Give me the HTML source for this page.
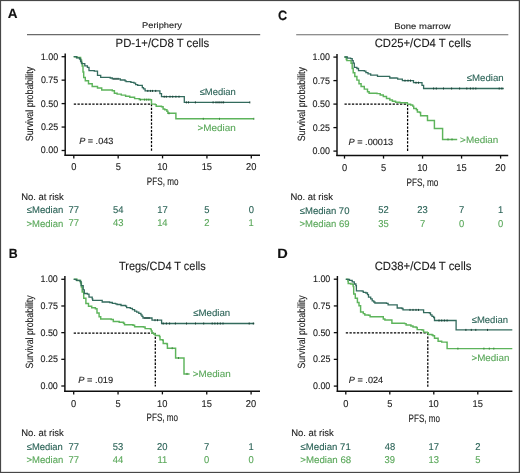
<!DOCTYPE html>
<html><head><meta charset="utf-8"><style>
html,body{margin:0;padding:0;background:#fff;}
svg{display:block;will-change:transform;}
text{font-family:"Liberation Sans",sans-serif;text-rendering:geometricPrecision;}
</style></head><body>
<svg width="520" height="473" viewBox="0 0 520 473">
<rect width="520" height="473" fill="#fff"/>
<line x1="27.00" y1="34.60" x2="260.20" y2="34.60" stroke="#6a6a6a" stroke-width="1.1"/>
<line x1="65.20" y1="53.40" x2="65.20" y2="155.90" stroke="#0e0e0e" stroke-width="1.45"/>
<line x1="64.50" y1="155.20" x2="260.00" y2="155.20" stroke="#0e0e0e" stroke-width="1.45"/>
<line x1="61.60" y1="56.70" x2="65.20" y2="56.70" stroke="#0e0e0e" stroke-width="1.3"/>
<line x1="61.60" y1="80.15" x2="65.20" y2="80.15" stroke="#0e0e0e" stroke-width="1.3"/>
<line x1="61.60" y1="103.60" x2="65.20" y2="103.60" stroke="#0e0e0e" stroke-width="1.3"/>
<line x1="61.60" y1="127.05" x2="65.20" y2="127.05" stroke="#0e0e0e" stroke-width="1.3"/>
<line x1="61.60" y1="150.50" x2="65.20" y2="150.50" stroke="#0e0e0e" stroke-width="1.3"/>
<line x1="73.80" y1="155.20" x2="73.80" y2="158.40" stroke="#0e0e0e" stroke-width="1.3"/>
<line x1="118.17" y1="155.20" x2="118.17" y2="158.40" stroke="#0e0e0e" stroke-width="1.3"/>
<line x1="162.55" y1="155.20" x2="162.55" y2="158.40" stroke="#0e0e0e" stroke-width="1.3"/>
<line x1="206.93" y1="155.20" x2="206.93" y2="158.40" stroke="#0e0e0e" stroke-width="1.3"/>
<line x1="251.30" y1="155.20" x2="251.30" y2="158.40" stroke="#0e0e0e" stroke-width="1.3"/>
<line x1="73.80" y1="104.00" x2="151.50" y2="104.00" stroke="#000" stroke-width="1.25" stroke-dasharray="2.3 1.4"/>
<line x1="151.50" y1="104.00" x2="151.50" y2="151.20" stroke="#000" stroke-width="1.25" stroke-dasharray="2.3 1.4"/>
<path d="M73.70,56.70H77.00V57.50H80.60V60.00H81.50V63.00H82.20V65.90H83.00V72.00H83.70V77.50H85.30V80.70H88.50V83.80H92.20V86.50H97.50V88.00H101.70V90.00H112.30V90.70H114.40V93.30H117.10V94.10H121.30V95.10H125.60V96.20H129.80V97.20H134.60V98.60H139.30V99.40H150.40V99.70H151.50V104.10H155.20V104.60H156.20V106.20H161.50V106.80H163.10V108.90H164.80V109.80H166.90V111.20H167.90V113.30H175.60V113.30H175.90V118.80H253.80V118.80" fill="none" stroke="#5db45b" stroke-width="1.45" stroke-linejoin="miter"/>
<path d="M73.70,56.70H76.50V57.80H79.50V59.00H80.60V61.50H81.60V63.70H84.80V65.90H87.40V67.40H89.00V70.60H94.30V71.10H97.50V75.40H100.70V77.30H110.20V78.00H112.30V78.80H119.50V78.80H120.30V80.00H125.00V80.90H126.10V81.60H129.80V81.70H130.90V82.40H134.00V83.20H135.60V84.60H137.70V85.30H141.90V85.30H142.30V87.70H143.50V88.80H145.10V90.90H159.50V90.90H159.90V93.60H161.50V96.70H184.00V96.70H184.30V102.40H249.80V102.40" fill="none" stroke="#336b5d" stroke-width="1.3" stroke-linejoin="miter"/>
<line x1="164.20" y1="95.70" x2="164.20" y2="97.70" stroke="#1b4036" stroke-width="1.0"/>
<line x1="166.30" y1="95.70" x2="166.30" y2="97.70" stroke="#1b4036" stroke-width="1.0"/>
<line x1="170.00" y1="95.70" x2="170.00" y2="97.70" stroke="#1b4036" stroke-width="1.0"/>
<line x1="172.70" y1="95.70" x2="172.70" y2="97.70" stroke="#1b4036" stroke-width="1.0"/>
<line x1="175.90" y1="95.70" x2="175.90" y2="97.70" stroke="#1b4036" stroke-width="1.0"/>
<line x1="179.00" y1="95.70" x2="179.00" y2="97.70" stroke="#1b4036" stroke-width="1.0"/>
<line x1="186.40" y1="101.40" x2="186.40" y2="103.40" stroke="#1b4036" stroke-width="1.0"/>
<line x1="188.50" y1="101.40" x2="188.50" y2="103.40" stroke="#1b4036" stroke-width="1.0"/>
<line x1="195.40" y1="101.40" x2="195.40" y2="103.40" stroke="#1b4036" stroke-width="1.0"/>
<line x1="213.10" y1="101.40" x2="213.10" y2="103.40" stroke="#1b4036" stroke-width="1.0"/>
<line x1="216.00" y1="101.40" x2="216.00" y2="103.40" stroke="#1b4036" stroke-width="1.0"/>
<line x1="218.00" y1="101.40" x2="218.00" y2="103.40" stroke="#1b4036" stroke-width="1.0"/>
<line x1="219.90" y1="101.40" x2="219.90" y2="103.40" stroke="#1b4036" stroke-width="1.0"/>
<line x1="221.90" y1="101.40" x2="221.90" y2="103.40" stroke="#1b4036" stroke-width="1.0"/>
<line x1="223.60" y1="101.40" x2="223.60" y2="103.40" stroke="#1b4036" stroke-width="1.0"/>
<line x1="249.80" y1="101.40" x2="249.80" y2="103.40" stroke="#1b4036" stroke-width="1.0"/>
<line x1="147.80" y1="89.90" x2="147.80" y2="91.90" stroke="#1b4036" stroke-width="1.0"/>
<line x1="150.40" y1="89.90" x2="150.40" y2="91.90" stroke="#1b4036" stroke-width="1.0"/>
<line x1="152.50" y1="89.90" x2="152.50" y2="91.90" stroke="#1b4036" stroke-width="1.0"/>
<line x1="155.70" y1="89.90" x2="155.70" y2="91.90" stroke="#1b4036" stroke-width="1.0"/>
<line x1="114.00" y1="77.80" x2="114.00" y2="79.80" stroke="#1b4036" stroke-width="1.0"/>
<line x1="116.00" y1="77.80" x2="116.00" y2="79.80" stroke="#1b4036" stroke-width="1.0"/>
<line x1="118.00" y1="77.80" x2="118.00" y2="79.80" stroke="#1b4036" stroke-width="1.0"/>
<line x1="169.00" y1="112.30" x2="169.00" y2="114.30" stroke="#3f8a40" stroke-width="1.0"/>
<line x1="203.30" y1="117.80" x2="203.30" y2="119.80" stroke="#3f8a40" stroke-width="1.0"/>
<line x1="219.50" y1="117.80" x2="219.50" y2="119.80" stroke="#3f8a40" stroke-width="1.0"/>
<line x1="253.80" y1="117.80" x2="253.80" y2="119.80" stroke="#3f8a40" stroke-width="1.0"/>
<line x1="140.40" y1="98.70" x2="140.40" y2="100.70" stroke="#3f8a40" stroke-width="1.0"/>
<line x1="144.60" y1="98.70" x2="144.60" y2="100.70" stroke="#3f8a40" stroke-width="1.0"/>
<line x1="146.70" y1="98.70" x2="146.70" y2="100.70" stroke="#3f8a40" stroke-width="1.0"/>
<line x1="148.80" y1="98.70" x2="148.80" y2="100.70" stroke="#3f8a40" stroke-width="1.0"/>
<line x1="64.90" y1="276.00" x2="64.90" y2="391.90" stroke="#0e0e0e" stroke-width="1.45"/>
<line x1="64.20" y1="391.20" x2="260.00" y2="391.20" stroke="#0e0e0e" stroke-width="1.45"/>
<line x1="61.30" y1="279.30" x2="64.90" y2="279.30" stroke="#0e0e0e" stroke-width="1.3"/>
<line x1="61.30" y1="305.98" x2="64.90" y2="305.98" stroke="#0e0e0e" stroke-width="1.3"/>
<line x1="61.30" y1="332.65" x2="64.90" y2="332.65" stroke="#0e0e0e" stroke-width="1.3"/>
<line x1="61.30" y1="359.32" x2="64.90" y2="359.32" stroke="#0e0e0e" stroke-width="1.3"/>
<line x1="61.30" y1="386.00" x2="64.90" y2="386.00" stroke="#0e0e0e" stroke-width="1.3"/>
<line x1="73.70" y1="391.20" x2="73.70" y2="394.40" stroke="#0e0e0e" stroke-width="1.3"/>
<line x1="118.05" y1="391.20" x2="118.05" y2="394.40" stroke="#0e0e0e" stroke-width="1.3"/>
<line x1="162.40" y1="391.20" x2="162.40" y2="394.40" stroke="#0e0e0e" stroke-width="1.3"/>
<line x1="206.75" y1="391.20" x2="206.75" y2="394.40" stroke="#0e0e0e" stroke-width="1.3"/>
<line x1="251.10" y1="391.20" x2="251.10" y2="394.40" stroke="#0e0e0e" stroke-width="1.3"/>
<line x1="73.70" y1="333.00" x2="155.30" y2="333.00" stroke="#000" stroke-width="1.25" stroke-dasharray="2.3 1.4"/>
<line x1="155.30" y1="333.00" x2="155.30" y2="386.60" stroke="#000" stroke-width="1.25" stroke-dasharray="2.3 1.4"/>
<path d="M73.70,279.30H77.00V280.50H80.60V282.90H81.40V287.00H82.20V291.90H83.70V298.30H85.90V303.50H88.50V306.20H91.70V307.80H95.40V308.80H97.00V313.00H99.10V316.80H100.70V318.90H111.20V319.40H113.30V321.50H119.20V322.30H123.50V323.20H124.50V324.80H133.00V325.30H134.60V326.80H143.50V327.00H145.10V328.60H150.40V329.10H151.30V331.00H152.10V333.30H153.70V334.00H155.30V335.40H159.50V336.60H160.00V339.80H162.70V340.30H163.20V343.50H166.90V344.00H167.40V348.20H175.40V348.20H175.60V358.00H183.80V358.00H184.00V373.90H189.60V373.90" fill="none" stroke="#5db45b" stroke-width="1.45" stroke-linejoin="miter"/>
<path d="M73.70,279.30H76.30V280.30H80.00V281.60H81.10V285.60H83.20V289.80H84.30V293.50H87.40V294.20H89.00V297.20H92.20V298.80H92.70V300.40H101.50V300.40H102.20V302.00H109.60V302.50H112.30V303.30H115.50V303.80H117.00V304.50H121.00V305.50H125.60V306.20H126.60V307.60H130.30V308.40H132.40V309.60H134.60V311.10H136.70V312.20H138.80V313.30H140.90V314.80H142.00V316.40H143.00V318.00H151.50V318.00H152.00V320.20H161.30V320.20H161.60V323.50H254.30V323.50" fill="none" stroke="#336b5d" stroke-width="1.3" stroke-linejoin="miter"/>
<line x1="163.20" y1="322.50" x2="163.20" y2="324.50" stroke="#1b4036" stroke-width="1.0"/>
<line x1="166.40" y1="322.50" x2="166.40" y2="324.50" stroke="#1b4036" stroke-width="1.0"/>
<line x1="169.60" y1="322.50" x2="169.60" y2="324.50" stroke="#1b4036" stroke-width="1.0"/>
<line x1="175.40" y1="322.50" x2="175.40" y2="324.50" stroke="#1b4036" stroke-width="1.0"/>
<line x1="186.50" y1="322.50" x2="186.50" y2="324.50" stroke="#1b4036" stroke-width="1.0"/>
<line x1="195.50" y1="322.50" x2="195.50" y2="324.50" stroke="#1b4036" stroke-width="1.0"/>
<line x1="203.70" y1="322.50" x2="203.70" y2="324.50" stroke="#1b4036" stroke-width="1.0"/>
<line x1="212.20" y1="322.50" x2="212.20" y2="324.50" stroke="#1b4036" stroke-width="1.0"/>
<line x1="214.90" y1="322.50" x2="214.90" y2="324.50" stroke="#1b4036" stroke-width="1.0"/>
<line x1="217.60" y1="322.50" x2="217.60" y2="324.50" stroke="#1b4036" stroke-width="1.0"/>
<line x1="220.30" y1="322.50" x2="220.30" y2="324.50" stroke="#1b4036" stroke-width="1.0"/>
<line x1="223.00" y1="322.50" x2="223.00" y2="324.50" stroke="#1b4036" stroke-width="1.0"/>
<line x1="249.20" y1="322.50" x2="249.20" y2="324.50" stroke="#1b4036" stroke-width="1.0"/>
<line x1="253.30" y1="322.50" x2="253.30" y2="324.50" stroke="#1b4036" stroke-width="1.0"/>
<line x1="145.00" y1="317.00" x2="145.00" y2="319.00" stroke="#1b4036" stroke-width="1.0"/>
<line x1="147.00" y1="317.00" x2="147.00" y2="319.00" stroke="#1b4036" stroke-width="1.0"/>
<line x1="149.00" y1="317.00" x2="149.00" y2="319.00" stroke="#1b4036" stroke-width="1.0"/>
<line x1="155.00" y1="319.20" x2="155.00" y2="321.20" stroke="#1b4036" stroke-width="1.0"/>
<line x1="157.50" y1="319.20" x2="157.50" y2="321.20" stroke="#1b4036" stroke-width="1.0"/>
<line x1="172.20" y1="347.20" x2="172.20" y2="349.20" stroke="#3f8a40" stroke-width="1.0"/>
<line x1="178.50" y1="357.00" x2="178.50" y2="359.00" stroke="#3f8a40" stroke-width="1.0"/>
<line x1="187.00" y1="372.90" x2="187.00" y2="374.90" stroke="#3f8a40" stroke-width="1.0"/>
<line x1="296.20" y1="34.70" x2="508.30" y2="34.70" stroke="#6a6a6a" stroke-width="1.1"/>
<line x1="337.00" y1="54.00" x2="337.00" y2="156.10" stroke="#0e0e0e" stroke-width="1.45"/>
<line x1="336.30" y1="155.40" x2="508.20" y2="155.40" stroke="#0e0e0e" stroke-width="1.45"/>
<line x1="333.40" y1="57.10" x2="337.00" y2="57.10" stroke="#0e0e0e" stroke-width="1.3"/>
<line x1="333.40" y1="80.60" x2="337.00" y2="80.60" stroke="#0e0e0e" stroke-width="1.3"/>
<line x1="333.40" y1="104.10" x2="337.00" y2="104.10" stroke="#0e0e0e" stroke-width="1.3"/>
<line x1="333.40" y1="127.60" x2="337.00" y2="127.60" stroke="#0e0e0e" stroke-width="1.3"/>
<line x1="333.40" y1="151.10" x2="337.00" y2="151.10" stroke="#0e0e0e" stroke-width="1.3"/>
<line x1="344.50" y1="155.40" x2="344.50" y2="158.60" stroke="#0e0e0e" stroke-width="1.3"/>
<line x1="383.52" y1="155.40" x2="383.52" y2="158.60" stroke="#0e0e0e" stroke-width="1.3"/>
<line x1="422.55" y1="155.40" x2="422.55" y2="158.60" stroke="#0e0e0e" stroke-width="1.3"/>
<line x1="461.57" y1="155.40" x2="461.57" y2="158.60" stroke="#0e0e0e" stroke-width="1.3"/>
<line x1="500.60" y1="155.40" x2="500.60" y2="158.60" stroke="#0e0e0e" stroke-width="1.3"/>
<line x1="344.50" y1="104.20" x2="407.60" y2="104.20" stroke="#000" stroke-width="1.25" stroke-dasharray="2.3 1.4"/>
<line x1="407.60" y1="104.20" x2="407.60" y2="151.60" stroke="#000" stroke-width="1.25" stroke-dasharray="2.3 1.4"/>
<path d="M344.40,57.00H346.30V59.50H346.90V60.60H349.50V60.60H351.10V63.20H352.20V68.50H353.20V72.70H354.80V76.40H356.90V80.10H359.00V83.80H361.10V86.50H364.30V89.10H367.50V91.80H369.10V93.30H377.00V93.60H380.20V94.90H383.30V96.50H386.50V98.40H389.80V100.00H392.40V101.20H395.60V102.30H399.80V102.80H406.00V102.80H407.40V104.30H410.60V105.00H412.70V106.10H413.70V108.50H416.40V109.80H417.40V111.90H419.60V112.40H420.60V115.70H427.20V115.90H427.50V120.40H434.00V120.40H434.40V128.40H442.40V128.40H442.60V139.40H457.20V139.40" fill="none" stroke="#5db45b" stroke-width="1.45" stroke-linejoin="miter"/>
<path d="M344.40,57.00H347.40V58.20H350.60V58.70H352.20V60.60H353.20V63.20H354.30V67.40H356.90V68.50H358.50V70.60H364.30V71.10H365.90V72.70H368.00V73.80H370.70V75.20H377.50V76.40H389.50V76.60H389.80V78.00H396.60V78.20H397.70V79.20H400.90V79.20H402.40V80.60H413.20V80.60H413.50V82.70H421.70V82.70H422.00V85.40H423.60V88.50H503.80V88.50" fill="none" stroke="#336b5d" stroke-width="1.3" stroke-linejoin="miter"/>
<line x1="433.60" y1="87.50" x2="433.60" y2="89.50" stroke="#1b4036" stroke-width="1.0"/>
<line x1="436.30" y1="87.50" x2="436.30" y2="89.50" stroke="#1b4036" stroke-width="1.0"/>
<line x1="443.50" y1="87.50" x2="443.50" y2="89.50" stroke="#1b4036" stroke-width="1.0"/>
<line x1="451.60" y1="87.50" x2="451.60" y2="89.50" stroke="#1b4036" stroke-width="1.0"/>
<line x1="459.60" y1="87.50" x2="459.60" y2="89.50" stroke="#1b4036" stroke-width="1.0"/>
<line x1="466.80" y1="87.50" x2="466.80" y2="89.50" stroke="#1b4036" stroke-width="1.0"/>
<line x1="470.40" y1="87.50" x2="470.40" y2="89.50" stroke="#1b4036" stroke-width="1.0"/>
<line x1="473.10" y1="87.50" x2="473.10" y2="89.50" stroke="#1b4036" stroke-width="1.0"/>
<line x1="475.80" y1="87.50" x2="475.80" y2="89.50" stroke="#1b4036" stroke-width="1.0"/>
<line x1="499.20" y1="87.50" x2="499.20" y2="89.50" stroke="#1b4036" stroke-width="1.0"/>
<line x1="501.90" y1="87.50" x2="501.90" y2="89.50" stroke="#1b4036" stroke-width="1.0"/>
<line x1="416.00" y1="81.70" x2="416.00" y2="83.70" stroke="#1b4036" stroke-width="1.0"/>
<line x1="418.50" y1="81.70" x2="418.50" y2="83.70" stroke="#1b4036" stroke-width="1.0"/>
<line x1="405.00" y1="79.60" x2="405.00" y2="81.60" stroke="#1b4036" stroke-width="1.0"/>
<line x1="408.00" y1="79.60" x2="408.00" y2="81.60" stroke="#1b4036" stroke-width="1.0"/>
<line x1="410.50" y1="79.60" x2="410.50" y2="81.60" stroke="#1b4036" stroke-width="1.0"/>
<line x1="448.00" y1="138.40" x2="448.00" y2="140.40" stroke="#3f8a40" stroke-width="1.0"/>
<line x1="452.00" y1="138.40" x2="452.00" y2="140.40" stroke="#3f8a40" stroke-width="1.0"/>
<line x1="337.40" y1="276.00" x2="337.40" y2="392.00" stroke="#0e0e0e" stroke-width="1.45"/>
<line x1="336.70" y1="391.30" x2="512.40" y2="391.30" stroke="#0e0e0e" stroke-width="1.45"/>
<line x1="333.80" y1="279.20" x2="337.40" y2="279.20" stroke="#0e0e0e" stroke-width="1.3"/>
<line x1="333.80" y1="305.93" x2="337.40" y2="305.93" stroke="#0e0e0e" stroke-width="1.3"/>
<line x1="333.80" y1="332.65" x2="337.40" y2="332.65" stroke="#0e0e0e" stroke-width="1.3"/>
<line x1="333.80" y1="359.38" x2="337.40" y2="359.38" stroke="#0e0e0e" stroke-width="1.3"/>
<line x1="333.80" y1="386.10" x2="337.40" y2="386.10" stroke="#0e0e0e" stroke-width="1.3"/>
<line x1="345.80" y1="391.30" x2="345.80" y2="394.50" stroke="#0e0e0e" stroke-width="1.3"/>
<line x1="389.80" y1="391.30" x2="389.80" y2="394.50" stroke="#0e0e0e" stroke-width="1.3"/>
<line x1="433.80" y1="391.30" x2="433.80" y2="394.50" stroke="#0e0e0e" stroke-width="1.3"/>
<line x1="477.80" y1="391.30" x2="477.80" y2="394.50" stroke="#0e0e0e" stroke-width="1.3"/>
<line x1="345.80" y1="332.80" x2="427.80" y2="332.80" stroke="#000" stroke-width="1.25" stroke-dasharray="2.3 1.4"/>
<line x1="427.80" y1="332.80" x2="427.80" y2="386.70" stroke="#000" stroke-width="1.25" stroke-dasharray="2.3 1.4"/>
<path d="M345.80,279.30H347.90V281.00H348.20V283.50H350.60V284.00H352.70V284.50H353.20V286.60H353.70V294.00H355.30V298.30H357.40V302.50H359.00V305.70H360.60V312.00H363.30V313.60H364.80V315.00H368.50V315.20H370.10V316.80H381.80V316.80H383.30V318.90H384.90V320.00H390.50V320.00H391.90V323.30H404.60V323.60H406.10V324.90H410.90V325.90H413.00V327.00H416.20V327.50H417.20V329.60H422.00V330.00H423.60V332.10H427.30V332.80H428.30V334.40H432.00V334.90H433.00V335.80H434.50V338.20H438.10V341.20H441.70V342.10H446.60V342.30H447.10V348.60H512.30V348.60" fill="none" stroke="#5db45b" stroke-width="1.45" stroke-linejoin="miter"/>
<path d="M345.80,279.30H349.50V280.30H352.20V281.90H354.30V284.00H355.90V285.60H356.40V290.90H362.20V291.10H363.30V292.40H365.90V293.00H367.50V294.60H368.50V297.20H370.70V298.80H372.20V300.90H373.80V302.00H374.90V303.00H386.50V303.30H388.10V304.80H396.60V304.80H397.20V308.00H401.90V308.50H403.00V309.90H422.80V309.90H423.60V312.70H429.40V313.00H430.50V314.80H432.00V316.40H433.60V317.50H434.50V320.50H455.60V320.50H456.10V329.90H512.30V329.90" fill="none" stroke="#336b5d" stroke-width="1.3" stroke-linejoin="miter"/>
<line x1="439.00" y1="319.50" x2="439.00" y2="321.50" stroke="#1b4036" stroke-width="1.0"/>
<line x1="441.70" y1="319.50" x2="441.70" y2="321.50" stroke="#1b4036" stroke-width="1.0"/>
<line x1="444.40" y1="319.50" x2="444.40" y2="321.50" stroke="#1b4036" stroke-width="1.0"/>
<line x1="447.10" y1="319.50" x2="447.10" y2="321.50" stroke="#1b4036" stroke-width="1.0"/>
<line x1="465.90" y1="328.90" x2="465.90" y2="330.90" stroke="#1b4036" stroke-width="1.0"/>
<line x1="471.30" y1="328.90" x2="471.30" y2="330.90" stroke="#1b4036" stroke-width="1.0"/>
<line x1="475.80" y1="328.90" x2="475.80" y2="330.90" stroke="#1b4036" stroke-width="1.0"/>
<line x1="487.50" y1="328.90" x2="487.50" y2="330.90" stroke="#1b4036" stroke-width="1.0"/>
<line x1="410.00" y1="308.90" x2="410.00" y2="310.90" stroke="#1b4036" stroke-width="1.0"/>
<line x1="413.00" y1="308.90" x2="413.00" y2="310.90" stroke="#1b4036" stroke-width="1.0"/>
<line x1="416.00" y1="308.90" x2="416.00" y2="310.90" stroke="#1b4036" stroke-width="1.0"/>
<line x1="418.50" y1="308.90" x2="418.50" y2="310.90" stroke="#1b4036" stroke-width="1.0"/>
<line x1="457.90" y1="347.60" x2="457.90" y2="349.60" stroke="#3f8a40" stroke-width="1.0"/>
<line x1="483.90" y1="347.60" x2="483.90" y2="349.60" stroke="#3f8a40" stroke-width="1.0"/>
<line x1="489.30" y1="347.60" x2="489.30" y2="349.60" stroke="#3f8a40" stroke-width="1.0"/>
<line x1="493.80" y1="347.60" x2="493.80" y2="349.60" stroke="#3f8a40" stroke-width="1.0"/>
<text x="7.79" y="18.20" textLength="9.77" lengthAdjust="spacingAndGlyphs" font-size="13.5" fill="#111" stroke="#111" stroke-width="0.12" font-weight="bold">A</text>
<text x="142.07" y="28.10" textLength="39.93" lengthAdjust="spacingAndGlyphs" font-size="8.3" fill="#1c1c1c" stroke="#1c1c1c" stroke-width="0.12">Periphery</text>
<text x="115.62" y="47.10" textLength="93.53" lengthAdjust="spacingAndGlyphs" font-size="12" fill="#1c1c1c" stroke="#1c1c1c" stroke-width="0.12">PD-1+/CD8 T cells</text>
<text x="40.74" y="59.60" textLength="17.38" lengthAdjust="spacingAndGlyphs" font-size="9.5" fill="#1c1c1c" stroke="#1c1c1c" stroke-width="0.12">1.00</text>
<text x="40.88" y="83.05" textLength="17.38" lengthAdjust="spacingAndGlyphs" font-size="9.5" fill="#1c1c1c" stroke="#1c1c1c" stroke-width="0.12">0.75</text>
<text x="40.74" y="106.50" textLength="17.38" lengthAdjust="spacingAndGlyphs" font-size="9.5" fill="#1c1c1c" stroke="#1c1c1c" stroke-width="0.12">0.50</text>
<text x="40.88" y="129.95" textLength="17.38" lengthAdjust="spacingAndGlyphs" font-size="9.5" fill="#1c1c1c" stroke="#1c1c1c" stroke-width="0.12">0.25</text>
<text x="40.74" y="153.40" textLength="17.38" lengthAdjust="spacingAndGlyphs" font-size="9.5" fill="#1c1c1c" stroke="#1c1c1c" stroke-width="0.12">0.00</text>
<text x="71.18" y="170.40" textLength="5.18" lengthAdjust="spacingAndGlyphs" font-size="9.9" fill="#1c1c1c" stroke="#1c1c1c" stroke-width="0.12">0</text>
<text x="115.63" y="170.40" textLength="5.18" lengthAdjust="spacingAndGlyphs" font-size="9.9" fill="#1c1c1c" stroke="#1c1c1c" stroke-width="0.12">5</text>
<text x="157.20" y="170.40" textLength="10.35" lengthAdjust="spacingAndGlyphs" font-size="9.9" fill="#1c1c1c" stroke="#1c1c1c" stroke-width="0.12">10</text>
<text x="201.65" y="170.40" textLength="10.35" lengthAdjust="spacingAndGlyphs" font-size="9.9" fill="#1c1c1c" stroke="#1c1c1c" stroke-width="0.12">15</text>
<text x="246.02" y="170.40" textLength="10.35" lengthAdjust="spacingAndGlyphs" font-size="9.9" fill="#1c1c1c" stroke="#1c1c1c" stroke-width="0.12">20</text>
<text x="79.16" y="144.40" textLength="34.21" lengthAdjust="spacingAndGlyphs" font-size="9" fill="#1c1c1c" stroke="#1c1c1c" stroke-width="0.12"><tspan font-style="italic">P</tspan> = .043</text>
<text x="199.65" y="95.40" textLength="36.08" lengthAdjust="spacingAndGlyphs" font-size="9.45" fill="#2b6357" stroke="#2b6357" stroke-width="0.12">≤Median</text>
<text x="197.54" y="131.00" textLength="38.22" lengthAdjust="spacingAndGlyphs" font-size="9.45" fill="#5aa85a" stroke="#5aa85a" stroke-width="0.12">&gt;Median</text>
<text x="146.87" y="185.30" textLength="31.56" lengthAdjust="spacingAndGlyphs" font-size="10.7" fill="#1c1c1c" stroke="#1c1c1c" stroke-width="0.12">PFS, mo</text>
<text x="0" y="0" transform="translate(33.10,141.28) rotate(-90)" textLength="74.38" lengthAdjust="spacingAndGlyphs" font-size="10.5" fill="#1c1c1c" stroke="#1c1c1c" stroke-width="0.12">Survival probability</text>
<text x="21.16" y="199.50" textLength="42.59" lengthAdjust="spacingAndGlyphs" font-size="9.6" fill="#1c1c1c" stroke="#1c1c1c" stroke-width="0.12">No. at risk</text>
<text x="26.85" y="213.40" textLength="36.38" lengthAdjust="spacingAndGlyphs" font-size="9.6" fill="#2b6357" stroke="#2b6357" stroke-width="0.12">≤Median</text>
<text x="26.56" y="226.50" textLength="36.68" lengthAdjust="spacingAndGlyphs" font-size="9.6" fill="#5aa85a" stroke="#5aa85a" stroke-width="0.12">&gt;Median</text>
<text x="68.54" y="213.10" textLength="10.46" lengthAdjust="spacingAndGlyphs" font-size="9.9" fill="#2b6357" stroke="#2b6357" stroke-width="0.12">77</text>
<text x="68.54" y="226.40" textLength="10.46" lengthAdjust="spacingAndGlyphs" font-size="9.9" fill="#5aa85a" stroke="#5aa85a" stroke-width="0.12">77</text>
<text x="112.91" y="213.10" textLength="10.46" lengthAdjust="spacingAndGlyphs" font-size="9.9" fill="#2b6357" stroke="#2b6357" stroke-width="0.12">54</text>
<text x="113.06" y="226.40" textLength="10.46" lengthAdjust="spacingAndGlyphs" font-size="9.9" fill="#5aa85a" stroke="#5aa85a" stroke-width="0.12">43</text>
<text x="157.22" y="213.10" textLength="10.46" lengthAdjust="spacingAndGlyphs" font-size="9.9" fill="#2b6357" stroke="#2b6357" stroke-width="0.12">17</text>
<text x="157.14" y="226.40" textLength="10.46" lengthAdjust="spacingAndGlyphs" font-size="9.9" fill="#5aa85a" stroke="#5aa85a" stroke-width="0.12">14</text>
<text x="204.35" y="213.10" textLength="5.23" lengthAdjust="spacingAndGlyphs" font-size="9.9" fill="#2b6357" stroke="#2b6357" stroke-width="0.12">5</text>
<text x="204.28" y="226.40" textLength="5.23" lengthAdjust="spacingAndGlyphs" font-size="9.9" fill="#5aa85a" stroke="#5aa85a" stroke-width="0.12">2</text>
<text x="248.65" y="213.10" textLength="5.23" lengthAdjust="spacingAndGlyphs" font-size="9.9" fill="#2b6357" stroke="#2b6357" stroke-width="0.12">0</text>
<text x="248.58" y="226.40" textLength="5.23" lengthAdjust="spacingAndGlyphs" font-size="9.9" fill="#5aa85a" stroke="#5aa85a" stroke-width="0.12">1</text>
<text x="8.83" y="258.30" textLength="8.90" lengthAdjust="spacingAndGlyphs" font-size="13.5" fill="#111" stroke="#111" stroke-width="0.12" font-weight="bold">B</text>
<text x="119.03" y="270.00" textLength="86.71" lengthAdjust="spacingAndGlyphs" font-size="12" fill="#1c1c1c" stroke="#1c1c1c" stroke-width="0.12">Tregs/CD4 T cells</text>
<text x="40.44" y="282.20" textLength="17.38" lengthAdjust="spacingAndGlyphs" font-size="9.5" fill="#1c1c1c" stroke="#1c1c1c" stroke-width="0.12">1.00</text>
<text x="40.58" y="308.88" textLength="17.38" lengthAdjust="spacingAndGlyphs" font-size="9.5" fill="#1c1c1c" stroke="#1c1c1c" stroke-width="0.12">0.75</text>
<text x="40.44" y="335.55" textLength="17.38" lengthAdjust="spacingAndGlyphs" font-size="9.5" fill="#1c1c1c" stroke="#1c1c1c" stroke-width="0.12">0.50</text>
<text x="40.58" y="362.22" textLength="17.38" lengthAdjust="spacingAndGlyphs" font-size="9.5" fill="#1c1c1c" stroke="#1c1c1c" stroke-width="0.12">0.25</text>
<text x="40.44" y="388.90" textLength="17.38" lengthAdjust="spacingAndGlyphs" font-size="9.5" fill="#1c1c1c" stroke="#1c1c1c" stroke-width="0.12">0.00</text>
<text x="71.08" y="406.80" textLength="5.18" lengthAdjust="spacingAndGlyphs" font-size="9.9" fill="#1c1c1c" stroke="#1c1c1c" stroke-width="0.12">0</text>
<text x="115.51" y="406.80" textLength="5.18" lengthAdjust="spacingAndGlyphs" font-size="9.9" fill="#1c1c1c" stroke="#1c1c1c" stroke-width="0.12">5</text>
<text x="157.05" y="406.80" textLength="10.35" lengthAdjust="spacingAndGlyphs" font-size="9.9" fill="#1c1c1c" stroke="#1c1c1c" stroke-width="0.12">10</text>
<text x="201.47" y="406.80" textLength="10.35" lengthAdjust="spacingAndGlyphs" font-size="9.9" fill="#1c1c1c" stroke="#1c1c1c" stroke-width="0.12">15</text>
<text x="245.82" y="406.80" textLength="10.35" lengthAdjust="spacingAndGlyphs" font-size="9.9" fill="#1c1c1c" stroke="#1c1c1c" stroke-width="0.12">20</text>
<text x="78.36" y="382.60" textLength="34.82" lengthAdjust="spacingAndGlyphs" font-size="9" fill="#1c1c1c" stroke="#1c1c1c" stroke-width="0.12"><tspan font-style="italic">P</tspan> = .019</text>
<text x="193.25" y="315.90" textLength="36.99" lengthAdjust="spacingAndGlyphs" font-size="9.45" fill="#2b6357" stroke="#2b6357" stroke-width="0.12">≤Median</text>
<text x="192.74" y="377.20" textLength="38.01" lengthAdjust="spacingAndGlyphs" font-size="9.45" fill="#5aa85a" stroke="#5aa85a" stroke-width="0.12">&gt;Median</text>
<text x="146.57" y="421.30" textLength="31.56" lengthAdjust="spacingAndGlyphs" font-size="10.7" fill="#1c1c1c" stroke="#1c1c1c" stroke-width="0.12">PFS, mo</text>
<text x="0" y="0" transform="translate(33.00,368.47) rotate(-90)" textLength="73.07" lengthAdjust="spacingAndGlyphs" font-size="10.5" fill="#1c1c1c" stroke="#1c1c1c" stroke-width="0.12">Survival probability</text>
<text x="21.16" y="435.80" textLength="42.59" lengthAdjust="spacingAndGlyphs" font-size="9.6" fill="#1c1c1c" stroke="#1c1c1c" stroke-width="0.12">No. at risk</text>
<text x="26.85" y="449.60" textLength="35.97" lengthAdjust="spacingAndGlyphs" font-size="9.6" fill="#2b6357" stroke="#2b6357" stroke-width="0.12">≤Median</text>
<text x="26.56" y="462.70" textLength="36.68" lengthAdjust="spacingAndGlyphs" font-size="9.6" fill="#5aa85a" stroke="#5aa85a" stroke-width="0.12">&gt;Median</text>
<text x="68.44" y="449.60" textLength="10.46" lengthAdjust="spacingAndGlyphs" font-size="9.9" fill="#2b6357" stroke="#2b6357" stroke-width="0.12">77</text>
<text x="68.44" y="462.60" textLength="10.46" lengthAdjust="spacingAndGlyphs" font-size="9.9" fill="#5aa85a" stroke="#5aa85a" stroke-width="0.12">77</text>
<text x="112.86" y="449.60" textLength="10.46" lengthAdjust="spacingAndGlyphs" font-size="9.9" fill="#2b6357" stroke="#2b6357" stroke-width="0.12">53</text>
<text x="112.86" y="462.60" textLength="10.46" lengthAdjust="spacingAndGlyphs" font-size="9.9" fill="#5aa85a" stroke="#5aa85a" stroke-width="0.12">44</text>
<text x="157.07" y="449.60" textLength="10.46" lengthAdjust="spacingAndGlyphs" font-size="9.9" fill="#2b6357" stroke="#2b6357" stroke-width="0.12">20</text>
<text x="157.42" y="462.60" textLength="9.76" lengthAdjust="spacingAndGlyphs" font-size="9.9" fill="#5aa85a" stroke="#5aa85a" stroke-width="0.12">11</text>
<text x="204.10" y="449.60" textLength="5.23" lengthAdjust="spacingAndGlyphs" font-size="9.9" fill="#2b6357" stroke="#2b6357" stroke-width="0.12">7</text>
<text x="204.10" y="462.60" textLength="5.23" lengthAdjust="spacingAndGlyphs" font-size="9.9" fill="#5aa85a" stroke="#5aa85a" stroke-width="0.12">0</text>
<text x="248.38" y="449.60" textLength="5.23" lengthAdjust="spacingAndGlyphs" font-size="9.9" fill="#2b6357" stroke="#2b6357" stroke-width="0.12">1</text>
<text x="248.45" y="462.60" textLength="5.23" lengthAdjust="spacingAndGlyphs" font-size="9.9" fill="#5aa85a" stroke="#5aa85a" stroke-width="0.12">0</text>
<text x="278.00" y="19.50" textLength="9.14" lengthAdjust="spacingAndGlyphs" font-size="13.5" fill="#111" stroke="#111" stroke-width="0.12" font-weight="bold">C</text>
<text x="394.26" y="28.80" textLength="56.32" lengthAdjust="spacingAndGlyphs" font-size="8.3" fill="#1c1c1c" stroke="#1c1c1c" stroke-width="0.12">Bone marrow</text>
<text x="374.67" y="46.90" textLength="96.48" lengthAdjust="spacingAndGlyphs" font-size="12" fill="#1c1c1c" stroke="#1c1c1c" stroke-width="0.12">CD25+/CD4 T cells</text>
<text x="312.54" y="60.00" textLength="17.38" lengthAdjust="spacingAndGlyphs" font-size="9.5" fill="#1c1c1c" stroke="#1c1c1c" stroke-width="0.12">1.00</text>
<text x="312.68" y="83.50" textLength="17.38" lengthAdjust="spacingAndGlyphs" font-size="9.5" fill="#1c1c1c" stroke="#1c1c1c" stroke-width="0.12">0.75</text>
<text x="312.54" y="107.00" textLength="17.38" lengthAdjust="spacingAndGlyphs" font-size="9.5" fill="#1c1c1c" stroke="#1c1c1c" stroke-width="0.12">0.50</text>
<text x="312.68" y="130.50" textLength="17.38" lengthAdjust="spacingAndGlyphs" font-size="9.5" fill="#1c1c1c" stroke="#1c1c1c" stroke-width="0.12">0.25</text>
<text x="312.54" y="154.00" textLength="17.38" lengthAdjust="spacingAndGlyphs" font-size="9.5" fill="#1c1c1c" stroke="#1c1c1c" stroke-width="0.12">0.00</text>
<text x="341.88" y="170.70" textLength="5.18" lengthAdjust="spacingAndGlyphs" font-size="9.9" fill="#1c1c1c" stroke="#1c1c1c" stroke-width="0.12">0</text>
<text x="380.98" y="170.70" textLength="5.18" lengthAdjust="spacingAndGlyphs" font-size="9.9" fill="#1c1c1c" stroke="#1c1c1c" stroke-width="0.12">5</text>
<text x="417.20" y="170.70" textLength="10.35" lengthAdjust="spacingAndGlyphs" font-size="9.9" fill="#1c1c1c" stroke="#1c1c1c" stroke-width="0.12">10</text>
<text x="456.30" y="170.70" textLength="10.35" lengthAdjust="spacingAndGlyphs" font-size="9.9" fill="#1c1c1c" stroke="#1c1c1c" stroke-width="0.12">15</text>
<text x="495.32" y="170.70" textLength="10.35" lengthAdjust="spacingAndGlyphs" font-size="9.9" fill="#1c1c1c" stroke="#1c1c1c" stroke-width="0.12">20</text>
<text x="348.56" y="144.50" textLength="44.61" lengthAdjust="spacingAndGlyphs" font-size="9" fill="#1c1c1c" stroke="#1c1c1c" stroke-width="0.12"><tspan font-style="italic">P</tspan> = .00013</text>
<text x="466.75" y="80.80" textLength="36.89" lengthAdjust="spacingAndGlyphs" font-size="9.45" fill="#2b6357" stroke="#2b6357" stroke-width="0.12">≤Median</text>
<text x="460.14" y="142.80" textLength="38.22" lengthAdjust="spacingAndGlyphs" font-size="9.45" fill="#5aa85a" stroke="#5aa85a" stroke-width="0.12">&gt;Median</text>
<text x="406.56" y="185.60" textLength="31.87" lengthAdjust="spacingAndGlyphs" font-size="10.7" fill="#1c1c1c" stroke="#1c1c1c" stroke-width="0.12">PFS, mo</text>
<text x="0" y="0" transform="translate(305.30,141.28) rotate(-90)" textLength="74.28" lengthAdjust="spacingAndGlyphs" font-size="10.5" fill="#1c1c1c" stroke="#1c1c1c" stroke-width="0.12">Survival probability</text>
<text x="290.46" y="200.10" textLength="42.49" lengthAdjust="spacingAndGlyphs" font-size="9.6" fill="#1c1c1c" stroke="#1c1c1c" stroke-width="0.12">No. at risk</text>
<text x="299.85" y="213.90" textLength="49.59" lengthAdjust="spacingAndGlyphs" font-size="9.6" fill="#2b6357" stroke="#2b6357" stroke-width="0.12">≤Median 70</text>
<text x="299.55" y="227.20" textLength="50.03" lengthAdjust="spacingAndGlyphs" font-size="9.6" fill="#5aa85a" stroke="#5aa85a" stroke-width="0.12">&gt;Median 69</text>
<text x="378.34" y="213.30" textLength="10.46" lengthAdjust="spacingAndGlyphs" font-size="9.9" fill="#2b6357" stroke="#2b6357" stroke-width="0.12">52</text>
<text x="378.34" y="227.00" textLength="10.46" lengthAdjust="spacingAndGlyphs" font-size="9.9" fill="#5aa85a" stroke="#5aa85a" stroke-width="0.12">35</text>
<text x="417.29" y="213.30" textLength="10.46" lengthAdjust="spacingAndGlyphs" font-size="9.9" fill="#2b6357" stroke="#2b6357" stroke-width="0.12">23</text>
<text x="419.90" y="227.00" textLength="5.23" lengthAdjust="spacingAndGlyphs" font-size="9.9" fill="#5aa85a" stroke="#5aa85a" stroke-width="0.12">7</text>
<text x="458.93" y="213.30" textLength="5.23" lengthAdjust="spacingAndGlyphs" font-size="9.9" fill="#2b6357" stroke="#2b6357" stroke-width="0.12">7</text>
<text x="458.93" y="227.00" textLength="5.23" lengthAdjust="spacingAndGlyphs" font-size="9.9" fill="#5aa85a" stroke="#5aa85a" stroke-width="0.12">0</text>
<text x="497.88" y="213.30" textLength="5.23" lengthAdjust="spacingAndGlyphs" font-size="9.9" fill="#2b6357" stroke="#2b6357" stroke-width="0.12">1</text>
<text x="497.95" y="227.00" textLength="5.23" lengthAdjust="spacingAndGlyphs" font-size="9.9" fill="#5aa85a" stroke="#5aa85a" stroke-width="0.12">0</text>
<text x="277.39" y="258.30" textLength="10.51" lengthAdjust="spacingAndGlyphs" font-size="13.5" fill="#111" stroke="#111" stroke-width="0.12" font-weight="bold">D</text>
<text x="374.67" y="269.50" textLength="96.68" lengthAdjust="spacingAndGlyphs" font-size="12" fill="#1c1c1c" stroke="#1c1c1c" stroke-width="0.12">CD38+/CD4 T cells</text>
<text x="312.94" y="282.10" textLength="17.38" lengthAdjust="spacingAndGlyphs" font-size="9.5" fill="#1c1c1c" stroke="#1c1c1c" stroke-width="0.12">1.00</text>
<text x="313.08" y="308.82" textLength="17.38" lengthAdjust="spacingAndGlyphs" font-size="9.5" fill="#1c1c1c" stroke="#1c1c1c" stroke-width="0.12">0.75</text>
<text x="312.94" y="335.55" textLength="17.38" lengthAdjust="spacingAndGlyphs" font-size="9.5" fill="#1c1c1c" stroke="#1c1c1c" stroke-width="0.12">0.50</text>
<text x="313.08" y="362.27" textLength="17.38" lengthAdjust="spacingAndGlyphs" font-size="9.5" fill="#1c1c1c" stroke="#1c1c1c" stroke-width="0.12">0.25</text>
<text x="312.94" y="389.00" textLength="17.38" lengthAdjust="spacingAndGlyphs" font-size="9.5" fill="#1c1c1c" stroke="#1c1c1c" stroke-width="0.12">0.00</text>
<text x="343.18" y="406.80" textLength="5.18" lengthAdjust="spacingAndGlyphs" font-size="9.9" fill="#1c1c1c" stroke="#1c1c1c" stroke-width="0.12">0</text>
<text x="387.26" y="406.80" textLength="5.18" lengthAdjust="spacingAndGlyphs" font-size="9.9" fill="#1c1c1c" stroke="#1c1c1c" stroke-width="0.12">5</text>
<text x="428.45" y="406.80" textLength="10.35" lengthAdjust="spacingAndGlyphs" font-size="9.9" fill="#1c1c1c" stroke="#1c1c1c" stroke-width="0.12">10</text>
<text x="472.52" y="406.80" textLength="10.35" lengthAdjust="spacingAndGlyphs" font-size="9.9" fill="#1c1c1c" stroke="#1c1c1c" stroke-width="0.12">15</text>
<text x="348.86" y="382.80" textLength="34.27" lengthAdjust="spacingAndGlyphs" font-size="9" fill="#1c1c1c" stroke="#1c1c1c" stroke-width="0.12"><tspan font-style="italic">P</tspan> = .024</text>
<text x="471.75" y="323.00" textLength="36.28" lengthAdjust="spacingAndGlyphs" font-size="9.45" fill="#2b6357" stroke="#2b6357" stroke-width="0.12">≤Median</text>
<text x="471.44" y="361.00" textLength="37.91" lengthAdjust="spacingAndGlyphs" font-size="9.45" fill="#5aa85a" stroke="#5aa85a" stroke-width="0.12">&gt;Median</text>
<text x="408.57" y="421.60" textLength="31.46" lengthAdjust="spacingAndGlyphs" font-size="10.7" fill="#1c1c1c" stroke="#1c1c1c" stroke-width="0.12">PFS, mo</text>
<text x="0" y="0" transform="translate(305.30,368.47) rotate(-90)" textLength="73.07" lengthAdjust="spacingAndGlyphs" font-size="10.5" fill="#1c1c1c" stroke="#1c1c1c" stroke-width="0.12">Survival probability</text>
<text x="291.16" y="435.80" textLength="42.59" lengthAdjust="spacingAndGlyphs" font-size="9.6" fill="#1c1c1c" stroke="#1c1c1c" stroke-width="0.12">No. at risk</text>
<text x="300.55" y="449.50" textLength="50.24" lengthAdjust="spacingAndGlyphs" font-size="9.6" fill="#2b6357" stroke="#2b6357" stroke-width="0.12">≤Median 71</text>
<text x="300.25" y="462.80" textLength="50.95" lengthAdjust="spacingAndGlyphs" font-size="9.6" fill="#5aa85a" stroke="#5aa85a" stroke-width="0.12">&gt;Median 68</text>
<text x="384.69" y="449.50" textLength="10.46" lengthAdjust="spacingAndGlyphs" font-size="9.9" fill="#2b6357" stroke="#2b6357" stroke-width="0.12">48</text>
<text x="384.61" y="463.10" textLength="10.46" lengthAdjust="spacingAndGlyphs" font-size="9.9" fill="#5aa85a" stroke="#5aa85a" stroke-width="0.12">39</text>
<text x="428.47" y="449.50" textLength="10.46" lengthAdjust="spacingAndGlyphs" font-size="9.9" fill="#2b6357" stroke="#2b6357" stroke-width="0.12">17</text>
<text x="428.47" y="463.10" textLength="10.46" lengthAdjust="spacingAndGlyphs" font-size="9.9" fill="#5aa85a" stroke="#5aa85a" stroke-width="0.12">13</text>
<text x="475.15" y="449.50" textLength="5.23" lengthAdjust="spacingAndGlyphs" font-size="9.9" fill="#2b6357" stroke="#2b6357" stroke-width="0.12">2</text>
<text x="475.23" y="463.10" textLength="5.23" lengthAdjust="spacingAndGlyphs" font-size="9.9" fill="#5aa85a" stroke="#5aa85a" stroke-width="0.12">5</text>
<rect x="0" y="0" width="520" height="1.1" fill="#474747"/><rect x="0" y="0" width="1.1" height="473" fill="#474747"/><rect x="518.75" y="0" width="1.25" height="473" fill="#474747"/><rect x="0" y="471.85" width="520" height="1.15" fill="#474747"/>
</svg>
</body></html>
